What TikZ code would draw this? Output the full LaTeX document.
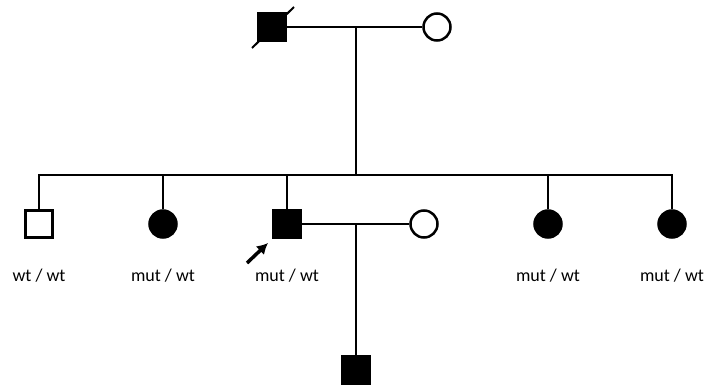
\documentclass[tikz,border=0pt]{standalone}
\usepackage{fontspec}
\setmainfont{Carlito}
\usetikzlibrary{arrows.meta}

\begin{document}
\begin{tikzpicture}[x=1pt,y=-1pt]
\tikzset{
    maleNode/.style={
                   draw,
                   line width=2.5pt,
                   minimum size=27pt,
                   inner sep=0pt
    },
    femaleNode/.style={
                   draw,
                   circle,
                   line width=2.5pt,
                   minimum size=27pt,
                   inner sep=0pt
    },
    affected/.style={fill=black},
    lineage/.style={line width=2pt},
    geno/.style={font=\fontsize{18}{20}\selectfont}
}
    \useasboundingbox (0,0) rectangle (705,386);

    % generation I
    \node (I1)[maleNode, affected] at (272,27) {};
    \node (I2)[femaleNode] at (437,27) {};
    \coordinate (m1) at (356,27);
    \coordinate (sib) at (356,175);

    % generation II
    \node (II1)[maleNode] at (39,224) {};
    \node (II2)[femaleNode, affected] at (163,224) {};
    \node (II3)[maleNode, affected] at (287,224) {};
    \node (S)[femaleNode] at (424,224) {};
    \node (II4)[femaleNode, affected] at (548,224) {};
    \node (II5)[femaleNode, affected] at (672,224) {};
    \coordinate (m2) at (356,224);

    % generation III
    \node (III1)[maleNode, affected] at (356,370) {};

    % genotypes
    \node (g1)[geno] at (39,276) {wt / wt};
    \node (g2)[geno] at (163,276) {mut / wt};
    \node (g3)[geno] at (287,276) {mut / wt};
    \node (g4)[geno] at (548,276) {mut / wt};
    \node (g5)[geno] at (672,276) {mut / wt};

    % deceased
    \coordinate (d1) at (252,48);
    \coordinate (d2) at (294,7);
    \draw[lineage] (d1) -- (d2);

    % proband
    \coordinate (p1) at (247,263);
    \coordinate (p2) at (268,243);
    \draw[-{Latex[length=11pt,width=12pt]}, line width=3.5pt] (p1) -- (p2);

    \draw[lineage] (I1) -- (I2);
    \draw[lineage] (m1) -- (sib);
    \draw[lineage] (II1.north) |- (II5 |- sib) -- (II5.north);
    \draw[lineage] (II2.north) -- (II2 |- sib);
    \draw[lineage] (II3.north) -- (II3 |- sib);
    \draw[lineage] (II4.north) -- (II4 |- sib);
    \draw[lineage] (II3) -- (S);
    \draw[lineage] (m2) -- (III1.north);

\end{tikzpicture}
\end{document}
